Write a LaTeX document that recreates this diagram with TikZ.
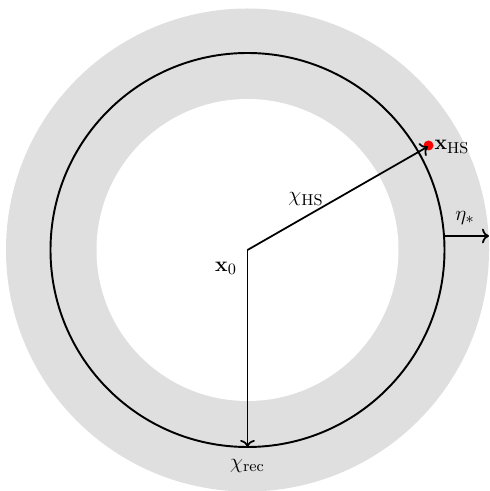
\documentclass[tikz,border=0pt]{standalone}
\usepackage{amsmath}
\usetikzlibrary{arrows.meta}
\begin{document}
\begin{tikzpicture}[
  ring/.style={line width=1.1pt},
  arr/.style={line width=1pt,-{To[scale=1.05]}},
  lbl/.style={inner sep=1pt,font=\fontsize{13pt}{16pt}\selectfont}
]
\useasboundingbox (-4.95,-4.82) rectangle (4.83,5.0);
\fill[gray!25] (0,0) circle (4.83);
\fill[white] (0,0) circle (3.02);
\coordinate (O) at (0,0);
\draw[ring] (O) circle (3.94);
\coordinate (hsend) at (3.61,2.07);
\coordinate (rec) at (0,-3.94);
\coordinate (etas) at (3.93,0.28);
\coordinate (etae) at (4.83,0.28);
\node[circle,fill=red,inner sep=0pt,minimum size=0.2cm] (hs) at (3.62,2.09) {};
\draw[arr] (O) -- (hsend);
\draw[arr] (O) -- (rec);
\draw[arr] (etas) -- (etae);
\node[lbl] (x0) at (-0.43,-0.36) {$\mathbf{x}_0$};
\node[lbl] (chihs) at (1.17,1.02) {$\chi_{\mathrm{HS}}$};
\node[lbl,anchor=west] (xhs) at (3.70,2.06) {$\mathbf{x}_{\mathrm{HS}}$};
\node[lbl] (eta) at (4.35,0.64) {$\eta_*$};
\node[lbl] (chirec) at (0,-4.32) {$\chi_{\mathrm{rec}}$};
\end{tikzpicture}
\end{document}
